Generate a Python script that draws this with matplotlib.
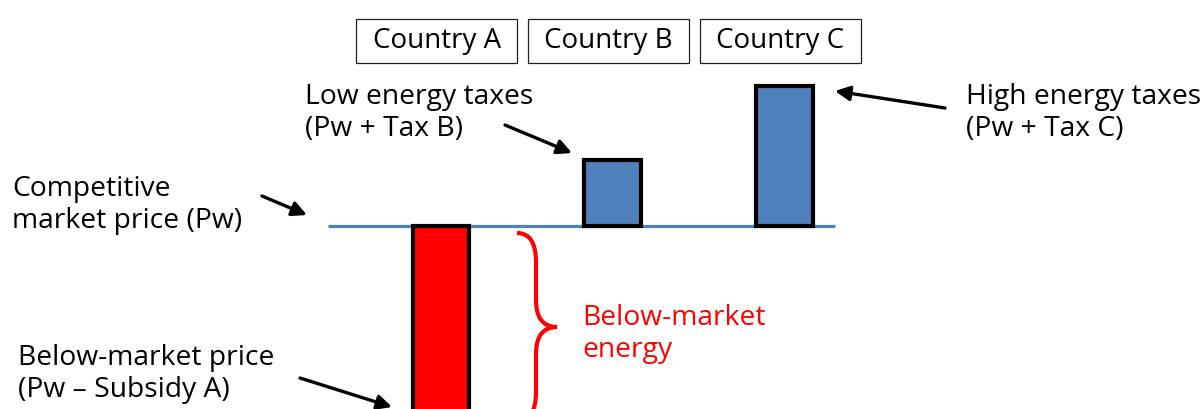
import matplotlib
matplotlib.use("Agg")
import matplotlib.pyplot as plt
from matplotlib.patches import Rectangle, PathPatch
from matplotlib.path import Path
from matplotlib.transforms import blended_transform_factory

plt.rcParams["font.family"] = ["Open Sans", "DejaVu Sans"]

# price relative to competitive market price Pw (arbitrary units)
countries = ["Country A", "Country B", "Country C"]
price_gap = [-6.0, 2.0, 4.25]
bar_colors = ["#FF0000", "#4F81BD", "#4F81BD"]

W, H = 1204, 409
fig = plt.figure(figsize=(W / 100, H / 100), dpi=100)

# bars
ax = fig.add_axes([0, 0, 1, 1])
ax.set_xlim(-2.568, 4.444)
ax.set_ylim(-5.545, 6.85)
ax.axis("off")
xs = list(range(len(countries)))
ax.hlines(0, -0.658, 2.295, color="#4F81BD", lw=2.3, zorder=1)
ax.bar(xs, price_gap, width=0.33, color=bar_colors, edgecolor="black",
       linewidth=3, zorder=2)

# country boxes above the bars
tr = blended_transform_factory(ax.transData, ax.transAxes)
for x, name in zip(xs, countries):
    ax.add_patch(Rectangle((x - 0.025 - 0.469, 0.846), 0.938, 0.1075,
                           transform=tr, fill=False, ec="#222222", lw=0.9,
                           clip_on=False))
    ax.text(x - 0.025, 0.90, name, transform=tr, ha="center", va="center",
            fontsize=20)

# annotation layer in pixel units (y down)
ov = fig.add_axes([0, 0, 1, 1])
ov.set_xlim(0, W)
ov.set_ylim(H, 0)
ov.axis("off")
ov.patch.set_alpha(0)

fs = 20.3
ls = 1.2
arrow = dict(arrowstyle="-|>", color="black", lw=2.4, mutation_scale=22,
             shrinkA=0, shrinkB=0)

ov.text(305, 113, "Low energy taxes\n(Pw + Tax B)", ha="left", va="center",
        fontsize=fs, linespacing=ls)
ov.annotate("", xy=(572, 153), xytext=(505, 125), arrowprops=arrow)

ov.text(966, 113, "High energy taxes\n(Pw + Tax C)", ha="left", va="center",
        fontsize=fs, linespacing=ls)
ov.annotate("", xy=(835, 91), xytext=(945, 108), arrowprops=arrow)

ov.text(12, 205, "Competitive\nmarket price (Pw)", ha="left", va="center",
        fontsize=fs, linespacing=ls)
ov.annotate("", xy=(307, 215), xytext=(262, 196), arrowprops=arrow)

ov.text(18, 374, "Below-market price\n(Pw \u2013 Subsidy A)", ha="left",
        va="center", fontsize=fs, linespacing=ls)
ov.annotate("", xy=(392, 407), xytext=(300, 378), arrowprops=arrow)

# red curly brace
verts = [(517, 233), (536, 233), (536, 262),
         (536, 300),
         (536, 327), (557, 327),
         (536, 327), (536, 354),
         (536, 392),
         (536, 421), (517, 421)]
codes = [Path.MOVETO, Path.CURVE3, Path.CURVE3,
         Path.LINETO,
         Path.CURVE3, Path.CURVE3,
         Path.CURVE3, Path.CURVE3,
         Path.LINETO,
         Path.CURVE3, Path.CURVE3]
ov.add_patch(PathPatch(Path(verts, codes), fill=False, ec="#FF0000", lw=3))
ov.text(582, 334, "Below-market\nenergy", ha="left", va="center",
        fontsize=fs, color="#FF0000", linespacing=ls)

fig.savefig("out.png", dpi=100)
